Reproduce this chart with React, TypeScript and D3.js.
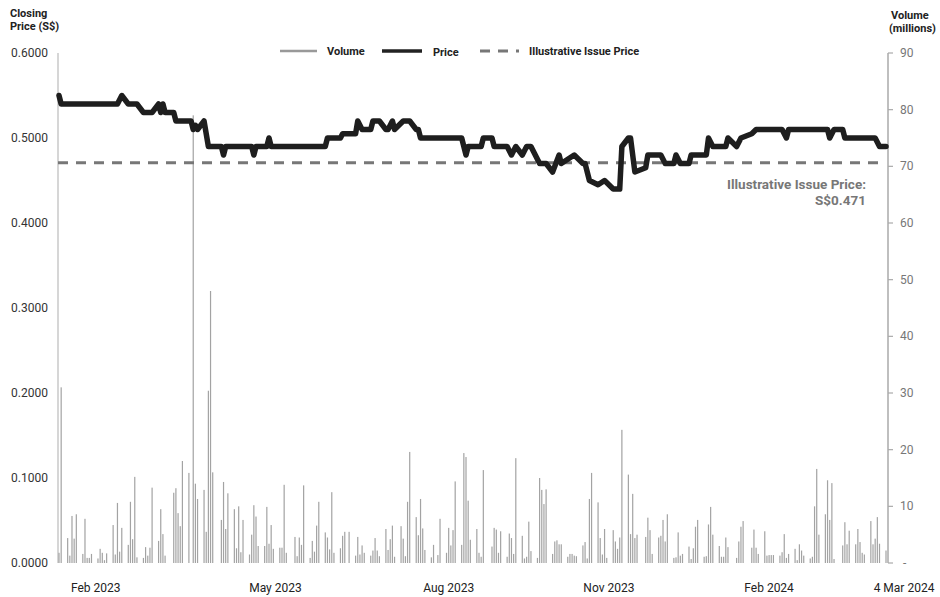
import React from 'react';
import * as d3 from 'd3';

const width = 940;
const height = 597;
const margin = { top: 53, right: 52, bottom: 34, left: 58 };
const plotBottom = height - margin.bottom;
const plotRight = width - margin.right;

const startDay = new Date(2023, 1, 16);
const endDay = new Date(2024, 2, 4);

// daily volume (millions), one value per weekday from 16 Feb 2023, 0 on market holidays
const volumeLead = [1.8, 31];
const volumeWeeks: number[][] = [
  [4.4, 1.3, 8.3, 4.3, 8.6],
  [1.6, 7.8, 0.9, 0.9, 1.6],
  [0.8, 2.5, 1.8, 0.5, 1.7],
  [6.7, 1.5, 10.6, 2.0, 6.2],
  [3.2, 10.8, 4.2, 15.2, 1.0],
  [0.9, 2.8, 1.3, 2.7, 13.3],
  [3.9, 9.5, 5.1, 1.3, 0],
  [12.4, 13.2, 8.8, 6.5, 18.0],
  [15.9, 0, 79, 14.0, 11.3],
  [12.9, 5.5, 30.4, 48, 16.0],
  [0, 7.6, 14.3, 6.0, 12.3],
  [9.5, 2.6, 10.0, 1.9, 7.6],
  [1.5, 5.0, 10.2, 8.2, 3.0],
  [3.0, 9.9, 3.4, 6.7, 2.5],
  [2.7, 2.7, 13.8, 1.8, 0],
  [4.6, 1.2, 4.5, 3.2, 13.7],
  [0.9, 3.9, 2.0, 6.6, 10.8],
  [5.4, 4.5, 2.4, 12.5, 1.8],
  [2.6, 4.8, 5.5, 0, 5.5],
  [1.3, 4.6, 1.5, 3.1, 1.8],
  [1.3, 2.2, 4.4, 2.2, 1.2],
  [6.0, 2.3, 4.2, 6.6, 1.1],
  [6.5, 4.3, 1.2, 10.8, 19.6],
  [8.1, 4.9, 11.3, 6.1, 2.3],
  [1.0, 3.2, 0, 1.4, 7.8],
  [1.8, 6.2, 3.1, 5.8, 14.4],
  [3.2, 19.4, 18.7, 11.0, 4.1],
  [6.0, 1.8, 1.1, 16.4, 0],
  [2.9, 6.2, 5.9, 1.8, 5.6],
  [1.1, 5.2, 4.4, 1.6, 18.5],
  [4.8, 0.8, 1.1, 7.3, 2.1],
  [0.9, 15.0, 12.9, 10.4, 13.0],
  [1.6, 3.8, 4.0, 3.3, 3.3],
  [1.1, 1.6, 1.6, 1.3, 1.2],
  [3.1, 3.7, 0.8, 11.3, 15.9],
  [10.7, 4.4, 1.5, 6.0, 0.9],
  [5.8, 3.8, 2.5, 4.5, 23.5],
  [15.6, 5.1, 12.2, 4.4, 5.0],
  [0, 4.6, 8.0, 5.8, 1.6],
  [4.5, 4.8, 7.6, 3.8, 8.6],
  [0.9, 1.0, 5.4, 1.3, 1.6],
  [2.9, 0.7, 2.6, 6.4, 7.6],
  [1.1, 1.2, 6.8, 9.9, 5.0],
  [3.0, 1.1, 1.1, 4.5, 2.8],
  [0, 0.9, 3.8, 6.4, 7.4],
  [0, 2.7, 5.9, 2.7, 1.6],
  [5.6, 1.3, 1.4, 1.4, 1.4],
  [1.3, 1.9, 5.1, 0.9, 1.6],
  [2.5, 0.5, 3.3, 2.2, 1.3],
  [0.8, 1.1, 10.0, 16.6, 5.0],
  [8.6, 14.6, 7.6, 14.1, 0.7],
  [0, 3.1, 7.2, 3.3, 5.7],
  [3.3, 6.0, 3.7, 1.8, 1.5],
  [7.4, 3.3, 4.3, 8.1, 3.4],
];
const volumeTail = [2.2];

// closing price where it changes
const priceDates = [
  '2023-02-16', '2023-02-17', '2023-03-15', '2023-03-17', '2023-03-20', '2023-03-24', '2023-03-27',
  '2023-03-31', '2023-04-03', '2023-04-04', '2023-04-05', '2023-04-06', '2023-04-10', '2023-04-11',
  '2023-04-18', '2023-04-19', '2023-04-20', '2023-04-21', '2023-04-24', '2023-04-25', '2023-04-26',
  '2023-05-02', '2023-05-03', '2023-05-04', '2023-05-16', '2023-05-17', '2023-05-18', '2023-05-23',
  '2023-05-24', '2023-05-25', '2023-06-19', '2023-06-20', '2023-06-26', '2023-06-27', '2023-07-03',
  '2023-07-04', '2023-07-06', '2023-07-10', '2023-07-11', '2023-07-14', '2023-07-17', '2023-07-18',
  '2023-07-20', '2023-07-21', '2023-07-25', '2023-07-28', '2023-07-31', '2023-08-01', '2023-08-02',
  '2023-08-21', '2023-08-23', '2023-08-24', '2023-08-30', '2023-08-31', '2023-09-04', '2023-09-05',
  '2023-09-11', '2023-09-13', '2023-09-15', '2023-09-18', '2023-09-20', '2023-09-22', '2023-09-26',
  '2023-09-29', '2023-10-02', '2023-10-05', '2023-10-06', '2023-10-12', '2023-10-16', '2023-10-17',
  '2023-10-19', '2023-10-23', '2023-10-26', '2023-10-30', '2023-11-02', '2023-11-03', '2023-11-06',
  '2023-11-07', '2023-11-09', '2023-11-14', '2023-11-15', '2023-11-21', '2023-11-23', '2023-11-27',
  '2023-11-28', '2023-11-30', '2023-12-04', '2023-12-05', '2023-12-12', '2023-12-13', '2023-12-15',
  '2023-12-21', '2023-12-22', '2023-12-26', '2023-12-28', '2024-01-02', '2024-01-04', '2024-01-16',
  '2024-01-18', '2024-01-19', '2024-02-06', '2024-02-07', '2024-02-09', '2024-02-13', '2024-02-14',
  '2024-02-28', '2024-03-01', '2024-03-04',
];
const priceValues = [
  0.55, 0.54, 0.54, 0.55, 0.54, 0.54, 0.53,
  0.53, 0.54, 0.53, 0.54, 0.53, 0.53, 0.52,
  0.52, 0.51, 0.515, 0.51, 0.52, 0.505, 0.49,
  0.49, 0.48, 0.49, 0.49, 0.48, 0.49, 0.49,
  0.50, 0.49, 0.49, 0.50, 0.50, 0.505, 0.505,
  0.52, 0.51, 0.51, 0.52, 0.52, 0.51, 0.51,
  0.52, 0.51, 0.52, 0.52, 0.51, 0.51, 0.50,
  0.50, 0.48, 0.49, 0.49, 0.50, 0.50, 0.49,
  0.49, 0.48, 0.49, 0.48, 0.49, 0.49, 0.47,
  0.47, 0.46, 0.48, 0.47, 0.48, 0.47, 0.47,
  0.45, 0.445, 0.45, 0.44, 0.44, 0.49, 0.50,
  0.50, 0.46, 0.465, 0.48, 0.48, 0.47, 0.47,
  0.48, 0.47, 0.47, 0.48, 0.48, 0.50, 0.49,
  0.49, 0.50, 0.49, 0.50, 0.505, 0.51, 0.51,
  0.50, 0.51, 0.51, 0.50, 0.51, 0.51, 0.50,
  0.50, 0.49, 0.49,
];

const issuePrice = 0.471;
const priceTicks = [0, 0.1, 0.2, 0.3, 0.4, 0.5, 0.6];
const volumeTicks = [0, 10, 20, 30, 40, 50, 60, 70, 80, 90];
const xTickDates = ['2023-03-05', '2023-05-27', '2023-08-15', '2023-10-28', '2024-01-10', '2024-03-04'];
const xTickLabels = ['Feb 2023', 'May 2023', 'Aug 2023', 'Nov 2023', 'Feb 2024', '4 Mar 2024'];

const font = 'Roboto, "Noto Sans", Arial, sans-serif';

export default function App() {
  const parse = d3.timeParse('%Y-%m-%d');

  const tradingDays = d3.timeDay
    .range(startDay, d3.timeDay.offset(endDay, 1))
    .filter((d) => d.getDay() % 6 !== 0);
  const volume = [...volumeLead, ...volumeWeeks.flat(), ...volumeTail];
  const volumeData = tradingDays.map((d, i) => ({ date: d, value: volume[i] ?? 0 }));

  const x = d3.scaleTime().domain([startDay, endDay]).range([59, 886]);
  const yPrice = d3.scaleLinear().domain([0, 0.6]).range([plotBottom, margin.top]);
  const yVol = d3.scaleLinear().domain([0, 90]).range([plotBottom, margin.top]);

  const priceData = priceDates.map((d, i) => ({ date: parse(d) as Date, value: priceValues[i] }));
  const priceLine = d3.line<{ date: Date; value: number }>()
    .x((d) => x(d.date))
    .y((d) => yPrice(d.value));

  const axisX = 888;

  return (
    <svg width={width} height={height} style={{ position: 'absolute', left: 0, top: 0, background: '#fff' }} fontFamily={font}>
      {/* axis titles */}
      <text x={10} y={17} fontSize={11} fontWeight="bold" fill="#222">Closing</text>
      <text x={10} y={30} fontSize={11} fontWeight="bold" fill="#222">Price (S$)</text>
      <text x={891} y={19} fontSize={11} fontWeight="bold" fill="#222">Volume</text>
      <text x={889} y={32} fontSize={11} fontWeight="bold" fill="#222">(millions)</text>

      {/* legend */}
      <line x1={280} x2={317} y1={51} y2={51} stroke="#999" strokeWidth={2.5} />
      <text x={327} y={55} fontSize={11} fontWeight="bold" fill="#222">Volume</text>
      <line x1={382} x2={422} y1={51} y2={51} stroke="#222" strokeWidth={3.5} />
      <text x={433} y={56} fontSize={11} fontWeight="bold" fill="#222">Price</text>
      <line x1={480} x2={519} y1={51} y2={51} stroke="#777" strokeWidth={3} strokeDasharray="10 8" />
      <text x={529} y={55} fontSize={11} fontWeight="bold" fill="#222">Illustrative Issue Price</text>

      {/* left axis */}
      <line x1={margin.left} x2={margin.left} y1={margin.top} y2={plotBottom} stroke="#c8c8c8" strokeWidth={1.5} />
      {priceTicks.map((t) => (
        <text key={t} x={48} y={yPrice(t) + 4} fontSize={12} textAnchor="end" fill="#333">
          {d3.format('.4f')(t)}
        </text>
      ))}

      {/* right axis */}
      <line x1={axisX} x2={axisX} y1={margin.top} y2={plotBottom} stroke="#aaa" strokeWidth={1.5} />
      {volumeTicks.map((t) => (
        <g key={t}>
          <line x1={axisX} x2={axisX + 5} y1={yVol(t)} y2={yVol(t)} stroke="#aaa" strokeWidth={1.2} />
          <text x={t === 0 ? 903 : 900} y={yVol(t) + 4} fontSize={12} fill="#777">
            {t === 0 ? '-' : t}
          </text>
        </g>
      ))}

      {/* x labels */}
      {xTickDates.map((d, i) => (
        <text
          key={d}
          x={x(parse(d) as Date) + (i === xTickDates.length - 1 ? 18 : 0)}
          y={592}
          fontSize={12}
          textAnchor="middle"
          fill="#222"
        >
          {xTickLabels[i]}
        </text>
      ))}

      {/* volume bars */}
      {volumeData.filter((d) => d.value > 0).map((d) => {
        const top = yVol(Math.min(d.value, 90));
        return (
          <rect
            key={+d.date}
            x={x(d.date) - 0.6}
            y={top}
            width={1.2}
            height={plotBottom - top}
            fill="#a3a3a3"
          />
        );
      })}

      {/* issue price */}
      <line
        x1={margin.left}
        x2={plotRight - 2}
        y1={yPrice(issuePrice)}
        y2={yPrice(issuePrice)}
        stroke="#777"
        strokeWidth={3}
        strokeDasharray="10 8"
      />

      {/* price */}
      <path
        d={priceLine(priceData) ?? ''}
        fill="none"
        stroke="#1e1e1e"
        strokeWidth={5.5}
        strokeLinejoin="round"
        strokeLinecap="round"
      />

      <text x={866} y={189} fontSize={13.5} fontWeight="bold" textAnchor="end" fill="#777">
        Illustrative Issue Price:
      </text>
      <text x={866} y={205} fontSize={13.5} fontWeight="bold" textAnchor="end" fill="#777">
        S$0.471
      </text>
    </svg>
  );
}
